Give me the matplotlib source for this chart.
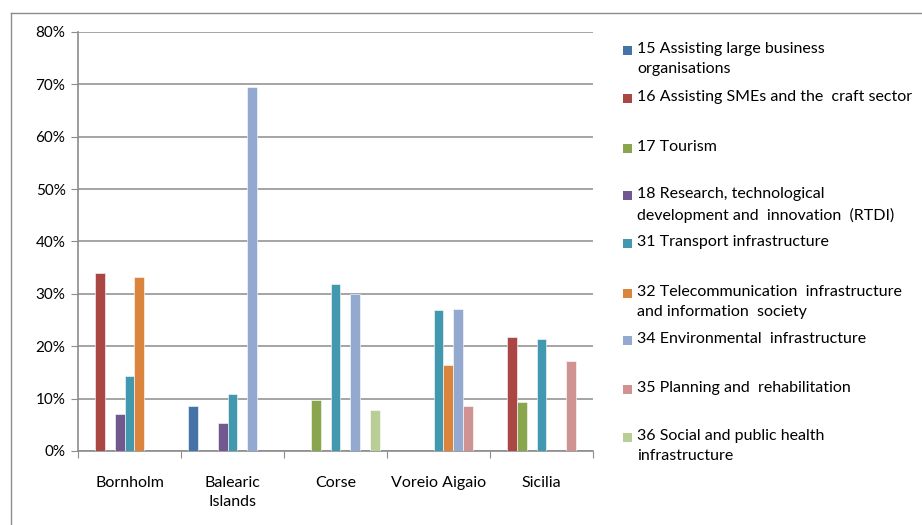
import matplotlib
matplotlib.use("Agg")
import matplotlib.pyplot as plt
import numpy as np
from matplotlib.patches import Rectangle
from matplotlib.lines import Line2D

plt.rcParams['font.family'] = ['Lato', 'DejaVu Sans']

regions = ["Bornholm", "Balearic\nIslands", "Corse", "Voreio Aigaio", "Sicilia"]
series_names = [
    "15 Assisting large business\norganisations",
    "16 Assisting SMEs and the  craft sector",
    "17 Tourism",
    "18 Research, technological\ndevelopment and  innovation  (RTDI)",
    "31 Transport infrastructure",
    "32 Telecommunication  infrastructure\nand information  society",
    "34 Environmental  infrastructure",
    "35 Planning and  rehabilitation",
    "36 Social and public health\ninfrastructure",
]
colors = ["#4572A7", "#AA4643", "#89A54E", "#71588F", "#4198AF",
          "#DB843D", "#93A9CF", "#D19392", "#B9CD96"]

v15 = [0, 8.6, 0, 0, 0]
v16 = [34.0, 0, 0, 0, 21.8]
v17 = [0, 0, 9.7, 0, 9.4]
v18 = [7.0, 5.3, 0, 0, 0]
v31 = [14.3, 10.9, 31.9, 27.0, 21.3]
v32 = [33.2, 0, 0, 16.4, 0]
v34 = [0, 69.5, 29.9, 27.2, 0]
v35 = [0, 0, 0, 8.6, 17.2]
v36 = [0, 0, 7.8, 0, 0]
values = [v15, v16, v17, v18, v31, v32, v34, v35, v36]

W, H = 922, 525
fig = plt.figure(figsize=(W/100, H/100), dpi=100)
ax = fig.add_axes([78/W, 1-451/H, (593-78)/W, (451-32)/H])

n = len(values)
gap = 1.5
bw = 1.0/(n+gap)
x = np.arange(len(regions))
for i, (vals, c) in enumerate(zip(values, colors)):
    pos = x - 0.5 + bw*gap/2 + bw*(i+0.5)
    ax.bar(pos, vals, width=bw, color=c, edgecolor='white', linewidth=0.4, zorder=3)

ax.set_xlim(-0.5, len(regions)-0.5)
ax.set_ylim(0, 80)
ax.set_yticks(np.arange(0, 81, 10))
ax.set_yticklabels([f"{t}%" for t in range(0, 81, 10)], fontsize=11)
ax.yaxis.grid(True, color='#8c8c8c', linewidth=1.1, zorder=0)
ax.set_axisbelow(True)
for s in ['top', 'right']:
    ax.spines[s].set_visible(False)
for s in ['left', 'bottom']:
    ax.spines[s].set_color('#8c8c8c')
    ax.spines[s].set_linewidth(1.2)
ax.tick_params(axis='y', length=5, color='#8c8c8c', direction='out', pad=4)
ax.set_xticks(np.arange(-0.5, len(regions)), minor=False)
ax.set_xticklabels([])
ax.tick_params(axis='x', length=5, color='#8c8c8c', direction='out')
ax.set_xticks(x, minor=True)
ax.set_xticklabels(regions, minor=True, fontsize=11.5, linespacing=1.45)
ax.tick_params(axis='x', which='minor', length=0, pad=18)

# legend
ys = [50, 98, 148, 195, 243, 293, 340, 389, 437]
for name, c, yy in zip(series_names, colors, ys):
    fig.patches.append(Rectangle((623/W, 1-(yy+5)/H), 9/W, 9/H, transform=fig.transFigure,
                                 facecolor=c, edgecolor='none'))
    fig.text(637/W, 1-(yy-8)/H, name, fontsize=11.5, va='top', ha='left', linespacing=1.55)

# chart-area border (top and left edges visible)
fig.lines.append(Line2D([11/W, 1], [1-13/H, 1-13/H], transform=fig.transFigure,
                        color='#8c8c8c', linewidth=1))
fig.lines.append(Line2D([11/W, 11/W], [1-13/H, 0], transform=fig.transFigure,
                        color='#8c8c8c', linewidth=1))
fig.savefig("out.png", dpi=100)
